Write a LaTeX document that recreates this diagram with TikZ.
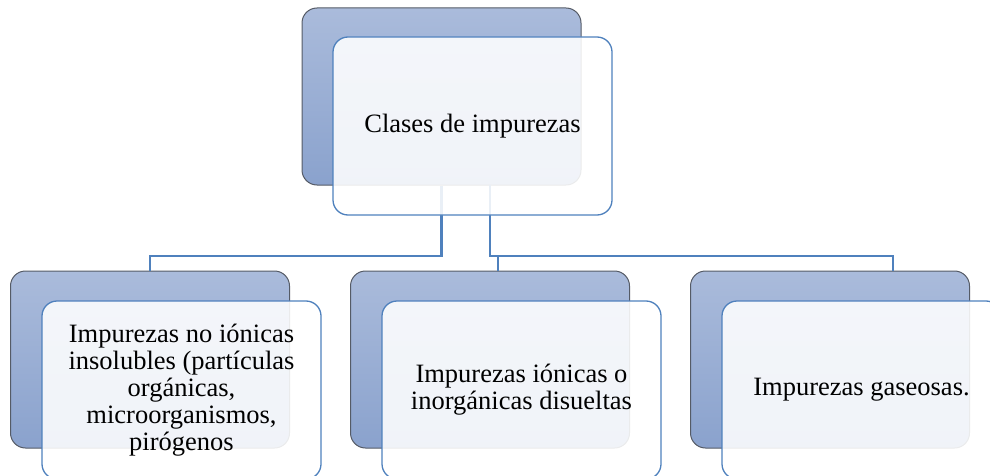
\documentclass[tikz,border=0pt]{standalone}
\usepackage{fontspec}
\setmainfont{Liberation Serif}
\usetikzlibrary{calc}
\definecolor{boxline}{HTML}{4F81BD}
\definecolor{backtop}{HTML}{AABBDB}
\definecolor{backbottom}{HTML}{8AA2CD}
\definecolor{backline}{HTML}{555B66}
\tikzset{
    % The shaded card lying behind each label
    back card/.style={
        draw=backline, line width=0.5pt, rounded corners=7.5pt,
        top color=backtop, bottom color=backbottom,
        minimum width=139.5pt, minimum height=88.5pt, inner sep=0},
%
    % The pale card carrying the text, laid over the back card
    front card/.style={
        draw=boxline, line width=0.65pt, rounded corners=7.5pt,
        fill=white, fill opacity=0.88, text opacity=1,
        minimum width=139.5pt, minimum height=89pt, inner sep=0,
        align=center, font=\fontsize{13.25}{13.5}\selectfont},
%
    % Lines of the tree
    connector/.style={draw=boxline, line width=1.3pt}}

\begin{document}
\begin{tikzpicture}[x=0.5pt, y=-0.5pt]

\useasboundingbox (0,0) rectangle (990,476);
\clip (0,0) rectangle (990,476);

% Back cards
\node[back card] (root back) at (441.5,96.5) {};
\node[back card] (left back) at (150,359.5) {};
\node[back card] (middle back) at (490,359.5) {};
\node[back card] (right back) at (830,359.5) {};

% The tree joining the root to its three classes
\coordinate (bus) at (0,256);
\coordinate (root drop) at (490,185);
\coordinate (middle drop) at (498,271);
\coordinate (right drop) at (893,271);

\draw[connector] (root back.south) |- (bus -| left back.north) -- (left back.north);
\draw[connector] (root drop) |- (bus -| right drop) -- (right drop);
\draw[connector] (bus -| middle drop) -- (middle drop);

% Front cards with the texts
\node[front card] (root) at (472.5,126) {Clases de impurezas};
\node[front card] (insolubles) at (181.5,390)
    {Impurezas no iónicas\\insolubles (partículas\\orgánicas,\\microorganismos,\\pirógenos};
\node[front card] (ionicas) at (521.5,390)
    {Impurezas iónicas o\\inorgánicas disueltas};
\node[front card] (gaseosas) at (861.5,390) {Impurezas gaseosas.};

\end{tikzpicture}
\end{document}
